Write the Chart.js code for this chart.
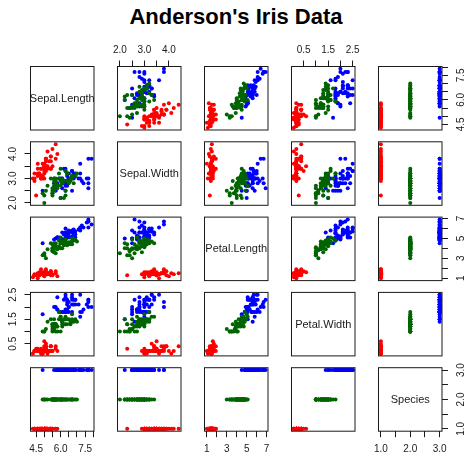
<!DOCTYPE html>
<html>
<head>
<meta charset="utf-8">
<script src="https://cdn.jsdelivr.net/npm/chart.js@4/dist/chart.umd.min.js"></script>
<style>
  html, body { margin: 0; padding: 0; background: #ffffff; }
  #wrap { position: relative; width: 467px; height: 454px; overflow: hidden; background: #ffffff; }
  #wrap canvas { position: absolute; left: 0; top: 0; }
  #title {
    position: absolute; left: 0; top: 4px; width: 472px; text-align: center;
    font: bold 22px "Liberation Sans", Arial, Helvetica, sans-serif; line-height: normal; color: #000;
  }
</style>
</head>
<body>
<div id="wrap"><div id="title">Anderson's Iris Data</div></div>
<script>
// Iris measurements (cm), 50 flowers per species
const setosaSepalLength = [5.1,4.9,4.7,4.6,5.0,5.4,4.6,5.0,4.4,4.9,5.4,4.8,4.8,4.3,5.8,5.7,5.4,5.1,5.7,5.1,5.4,5.1,4.6,5.1,4.8,5.0,5.0,5.2,5.2,4.7,4.8,5.4,5.2,5.5,4.9,5.0,5.5,4.9,4.4,5.1,5.0,4.5,4.4,5.0,5.1,4.8,5.1,4.6,5.3,5.0];
const setosaSepalWidth  = [3.5,3.0,3.2,3.1,3.6,3.9,3.4,3.4,2.9,3.1,3.7,3.4,3.0,3.0,4.0,4.4,3.9,3.5,3.8,3.8,3.4,3.7,3.6,3.3,3.4,3.0,3.4,3.5,3.4,3.2,3.1,3.4,4.1,4.2,3.1,3.2,3.5,3.6,3.0,3.4,3.5,2.3,3.2,3.5,3.8,3.0,3.8,3.2,3.7,3.3];
const setosaPetalLength = [1.4,1.4,1.3,1.5,1.4,1.7,1.4,1.5,1.4,1.5,1.5,1.6,1.4,1.1,1.2,1.5,1.3,1.4,1.7,1.5,1.7,1.5,1.0,1.7,1.9,1.6,1.6,1.5,1.4,1.6,1.6,1.5,1.5,1.4,1.5,1.2,1.3,1.4,1.3,1.5,1.3,1.3,1.3,1.6,1.9,1.4,1.6,1.4,1.5,1.4];
const setosaPetalWidth  = [0.2,0.2,0.2,0.2,0.2,0.4,0.3,0.2,0.2,0.1,0.2,0.2,0.1,0.1,0.2,0.4,0.4,0.3,0.3,0.3,0.2,0.4,0.2,0.5,0.2,0.2,0.4,0.2,0.2,0.2,0.2,0.4,0.1,0.2,0.2,0.2,0.2,0.1,0.2,0.2,0.3,0.3,0.2,0.6,0.4,0.3,0.2,0.2,0.2,0.2];

const versicolorSepalLength = [7.0,6.4,6.9,5.5,6.5,5.7,6.3,4.9,6.6,5.2,5.0,5.9,6.0,6.1,5.6,6.7,5.6,5.8,6.2,5.6,5.9,6.1,6.3,6.1,6.4,6.6,6.8,6.7,6.0,5.7,5.5,5.5,5.8,6.0,5.4,6.0,6.7,6.3,5.6,5.5,5.5,6.1,5.8,5.0,5.6,5.7,5.7,6.2,5.1,5.7];
const versicolorSepalWidth  = [3.2,3.2,3.1,2.3,2.8,2.8,3.3,2.4,2.9,2.7,2.0,3.0,2.2,2.9,2.9,3.1,3.0,2.7,2.2,2.5,3.2,2.8,2.5,2.8,2.9,3.0,2.8,3.0,2.9,2.6,2.4,2.4,2.7,2.7,3.0,3.4,3.1,2.3,3.0,2.5,2.6,3.0,2.6,2.3,2.7,3.0,2.9,2.9,2.5,2.8];
const versicolorPetalLength = [4.7,4.5,4.9,4.0,4.6,4.5,4.7,3.3,4.6,3.9,3.5,4.2,4.0,4.7,3.6,4.4,4.5,4.1,4.5,3.9,4.8,4.0,4.9,4.7,4.3,4.4,4.8,5.0,4.5,3.5,3.8,3.7,3.9,5.1,4.5,4.5,4.7,4.4,4.1,4.0,4.4,4.6,4.0,3.3,4.2,4.2,4.2,4.3,3.0,4.1];
const versicolorPetalWidth  = [1.4,1.5,1.5,1.3,1.5,1.3,1.6,1.0,1.3,1.4,1.0,1.5,1.0,1.4,1.3,1.4,1.5,1.0,1.5,1.1,1.8,1.3,1.5,1.2,1.3,1.4,1.4,1.7,1.5,1.0,1.1,1.0,1.2,1.6,1.5,1.6,1.5,1.3,1.3,1.3,1.2,1.4,1.2,1.0,1.3,1.2,1.3,1.3,1.1,1.3];

const virginicaSepalLength = [6.3,5.8,7.1,6.3,6.5,7.6,4.9,7.3,6.7,7.2,6.5,6.4,6.8,5.7,5.8,6.4,6.5,7.7,7.7,6.0,6.9,5.6,7.7,6.3,6.7,7.2,6.2,6.1,6.4,7.2,7.4,7.9,6.4,6.3,6.1,7.7,6.3,6.4,6.0,6.9,6.7,6.9,5.8,6.8,6.7,6.7,6.3,6.5,6.2,5.9];
const virginicaSepalWidth  = [3.3,2.7,3.0,2.9,3.0,3.0,2.5,2.9,2.5,3.6,3.2,2.7,3.0,2.5,2.8,3.2,3.0,3.8,2.6,2.2,3.2,2.8,2.8,2.7,3.3,3.2,2.8,3.0,2.8,3.0,2.8,3.8,2.8,2.8,2.6,3.0,3.4,3.1,3.0,3.1,3.1,3.1,2.7,3.2,3.3,3.0,2.5,3.0,3.4,3.0];
const virginicaPetalLength = [6.0,5.1,5.9,5.6,5.8,6.6,4.5,6.3,5.8,6.1,5.1,5.3,5.5,5.0,5.1,5.3,5.5,6.7,6.9,5.0,5.7,4.9,6.7,4.9,5.7,6.0,4.8,4.9,5.6,5.8,6.1,6.4,5.6,5.1,5.6,6.1,5.6,5.5,4.8,5.4,5.6,5.1,5.1,5.9,5.7,5.2,5.0,5.2,5.4,5.1];
const virginicaPetalWidth  = [2.5,1.9,2.1,1.8,2.2,2.1,1.7,1.8,1.8,2.5,2.0,1.9,2.1,2.0,2.4,2.3,1.8,2.2,2.3,1.5,2.3,2.0,2.0,1.8,2.1,1.8,1.8,1.8,2.1,1.6,1.9,2.0,2.2,1.5,1.4,2.3,2.4,1.8,1.8,2.1,2.4,2.3,1.9,2.3,2.5,2.3,1.9,2.0,2.3,1.8];

// Species and their numeric codes
const speciesNames = ['setosa', 'versicolor', 'virginica'];
const speciesCodes = [1, 2, 3];

// Variables of the matrix
const variableNames = ['Sepal.Length', 'Sepal.Width', 'Petal.Length', 'Petal.Width', 'Species'];

// Tick positions and their labels ('' = tick without a label)
const sepalLengthTicks  = [4.5, 5.0, 5.5, 6.0, 6.5, 7.0, 7.5, 8.0];
const sepalLengthLabels = ['4.5', '', '', '6.0', '', '', '7.5', ''];
const sepalWidthTicks   = [2.0, 2.5, 3.0, 3.5, 4.0];
const sepalWidthLabels  = ['2.0', '', '3.0', '', '4.0'];
const petalLengthTicks  = [1, 2, 3, 4, 5, 6, 7];
const petalLengthLabels = ['1', '', '3', '', '5', '', '7'];
const petalWidthTicks   = [0.5, 1.0, 1.5, 2.0, 2.5];
const petalWidthLabels  = ['0.5', '', '1.5', '', '2.5'];
const speciesTicks      = [1.0, 1.5, 2.0, 2.5, 3.0];
const speciesLabels     = ['1.0', '', '2.0', '', '3.0'];

// ---- styling / layout ----
const W = 467, H = 454;
const PANEL = 63.5;
const COL_X = [30.5, 117.5, 204.5, 291.5, 378.5];
const ROW_Y = [66.5, 141.8, 217.1, 292.4, 367.7];
const AXIS_SPACE = { top: 28, bottom: 22, left: 28, right: 25 };
const TICK_LEN = 6;
const FONT_FAMILY = '"Liberation Sans", Arial, Helvetica, sans-serif';
const TICK_FONT_SIZE = 10;
const speciesColors = ['#ff0000', '#006400', '#0000ff'];
const INK = '#1a1a1a';

Chart.defaults.font.family = FONT_FAMILY;

// values per variable, per species
const columns = [
  [setosaSepalLength, versicolorSepalLength, virginicaSepalLength],
  [setosaSepalWidth, versicolorSepalWidth, virginicaSepalWidth],
  [setosaPetalLength, versicolorPetalLength, virginicaPetalLength],
  [setosaPetalWidth, versicolorPetalWidth, virginicaPetalWidth],
  null // species: its code
];
const axisTicks = [sepalLengthTicks, sepalWidthTicks, petalLengthTicks, petalWidthTicks, speciesTicks];
const axisLabels = [sepalLengthLabels, sepalWidthLabels, petalLengthLabels, petalWidthLabels, speciesLabels];

function valueOf(v, k, n) {
  return columns[v] ? columns[v][k][n] : speciesCodes[k];
}

// axis limits: data range widened by 4% on each side
const ranges = variableNames.map((_, v) => {
  let lo = Infinity, hi = -Infinity;
  speciesNames.forEach((s, k) => {
    const arr = columns[0][k];
    for (let n = 0; n < arr.length; n++) {
      const x = valueOf(v, k, n);
      if (x < lo) lo = x;
      if (x > hi) hi = x;
    }
  });
  const ext = (hi - lo) * 0.04;
  return [lo - ext, hi + ext];
});

const measureCtx = document.createElement('canvas').getContext('2d');
measureCtx.font = TICK_FONT_SIZE + 'px ' + FONT_FAMILY;
function widestLabel(v) {
  return Math.max(...axisLabels[v].map(t => measureCtx.measureText(t).width));
}

function axisOptions(v, axis, position, visible) {
  const horizontal = axis === 'x';
  let padding;
  if (horizontal) padding = position === 'top' ? 4.2 : 6.5;
  else padding = (position === 'left' ? 17.4 : 19) - TICK_LEN - widestLabel(v) / 2;
  return {
    type: 'linear',
    position,
    display: visible,
    bounds: 'data',
    min: ranges[v][0],
    max: ranges[v][1],
    grid: {
      display: true,
      drawOnChartArea: false,
      drawTicks: true,
      tickLength: TICK_LEN,
      color: INK,
      lineWidth: 1
    },
    border: { display: false },
    ticks: {
      autoSkip: false,
      color: INK,
      font: { family: FONT_FAMILY, size: TICK_FONT_SIZE },
      padding,
      minRotation: horizontal ? 0 : 90,
      maxRotation: horizontal ? 0 : 90,
      crossAlign: horizontal ? 'near' : 'center',
      callback: (value) => {
        const idx = axisTicks[v].findIndex(t => Math.abs(t - value) < 1e-9);
        return idx >= 0 ? axisLabels[v][idx] : '';
      }
    },
    afterBuildTicks: (scale) => {
      scale.ticks = axisTicks[v].map(value => ({ value }));
    },
    afterFit: (scale) => {
      // fixed room for a drawn axis; hidden axes take none
      const size = visible ? AXIS_SPACE[position] : 0;
      if (horizontal) scale.height = size;
      else scale.width = size;
    }
  };
}

// panel frame and the variable name on the diagonal
const panelFrame = {
  id: 'panelFrame',
  afterDraw(chart, args, opts) {
    const { ctx, chartArea: a } = chart;
    ctx.save();
    ctx.strokeStyle = INK;
    ctx.lineWidth = 1;
    ctx.strokeRect(a.left, a.top, a.right - a.left, a.bottom - a.top);
    if (opts.label) {
      ctx.font = '11px ' + FONT_FAMILY;
      ctx.fillStyle = INK;
      ctx.textAlign = 'center';
      ctx.textBaseline = 'middle';
      ctx.fillText(opts.label, (a.left + a.right) / 2, (a.top + a.bottom) / 2 + 0.5);
    }
    ctx.restore();
  }
};

const wrap = document.getElementById('wrap');

for (let i = 0; i < 5; i++) {      // row: variable on y
  for (let j = 0; j < 5; j++) {    // column: variable on x
    const showTop = i === 0 && j % 2 === 1;
    const showBottom = i === 4 && j % 2 === 0;
    const showLeft = j === 0 && i % 2 === 1;
    const showRight = j === 4 && i % 2 === 0;

    const datasets = [];
    if (i !== j) {
      speciesNames.forEach((name, k) => {
        const pts = columns[0][k].map((_, n) => ({ x: valueOf(j, k, n), y: valueOf(i, k, n) }));
        datasets.push({
          label: name,
          data: pts,
          backgroundColor: speciesColors[k],
          borderWidth: 0,
          pointRadius: 2,
          pointHoverRadius: 2
        });
      });
    }

    const canvas = document.createElement('canvas');
    canvas.width = W;
    canvas.height = H;
    canvas.style.width = W + 'px';
    canvas.style.height = H + 'px';
    wrap.appendChild(canvas);

    new Chart(canvas, {
      type: 'scatter',
      data: { datasets },
      options: {
        responsive: false,
        animation: false,
        devicePixelRatio: 1,
        events: [],
        layout: {
          padding: {
            left: COL_X[j] - (showLeft ? AXIS_SPACE.left : 0),
            top: ROW_Y[i] - (showTop ? AXIS_SPACE.top : 0),
            right: W - (COL_X[j] + PANEL) - (showRight ? AXIS_SPACE.right : 0),
            bottom: H - (ROW_Y[i] + PANEL) - (showBottom ? AXIS_SPACE.bottom : 0)
          }
        },
        plugins: {
          legend: { display: false },
          tooltip: { enabled: false },
          title: { display: false },
          panelFrame: { label: i === j ? variableNames[i] : '' }
        },
        scales: {
          x: axisOptions(j, 'x', showTop ? 'top' : 'bottom', showTop || showBottom),
          y: axisOptions(i, 'y', showRight ? 'right' : 'left', showLeft || showRight)
        }
      },
      plugins: [panelFrame]
    });
  }
}
</script>
</body>
</html>
